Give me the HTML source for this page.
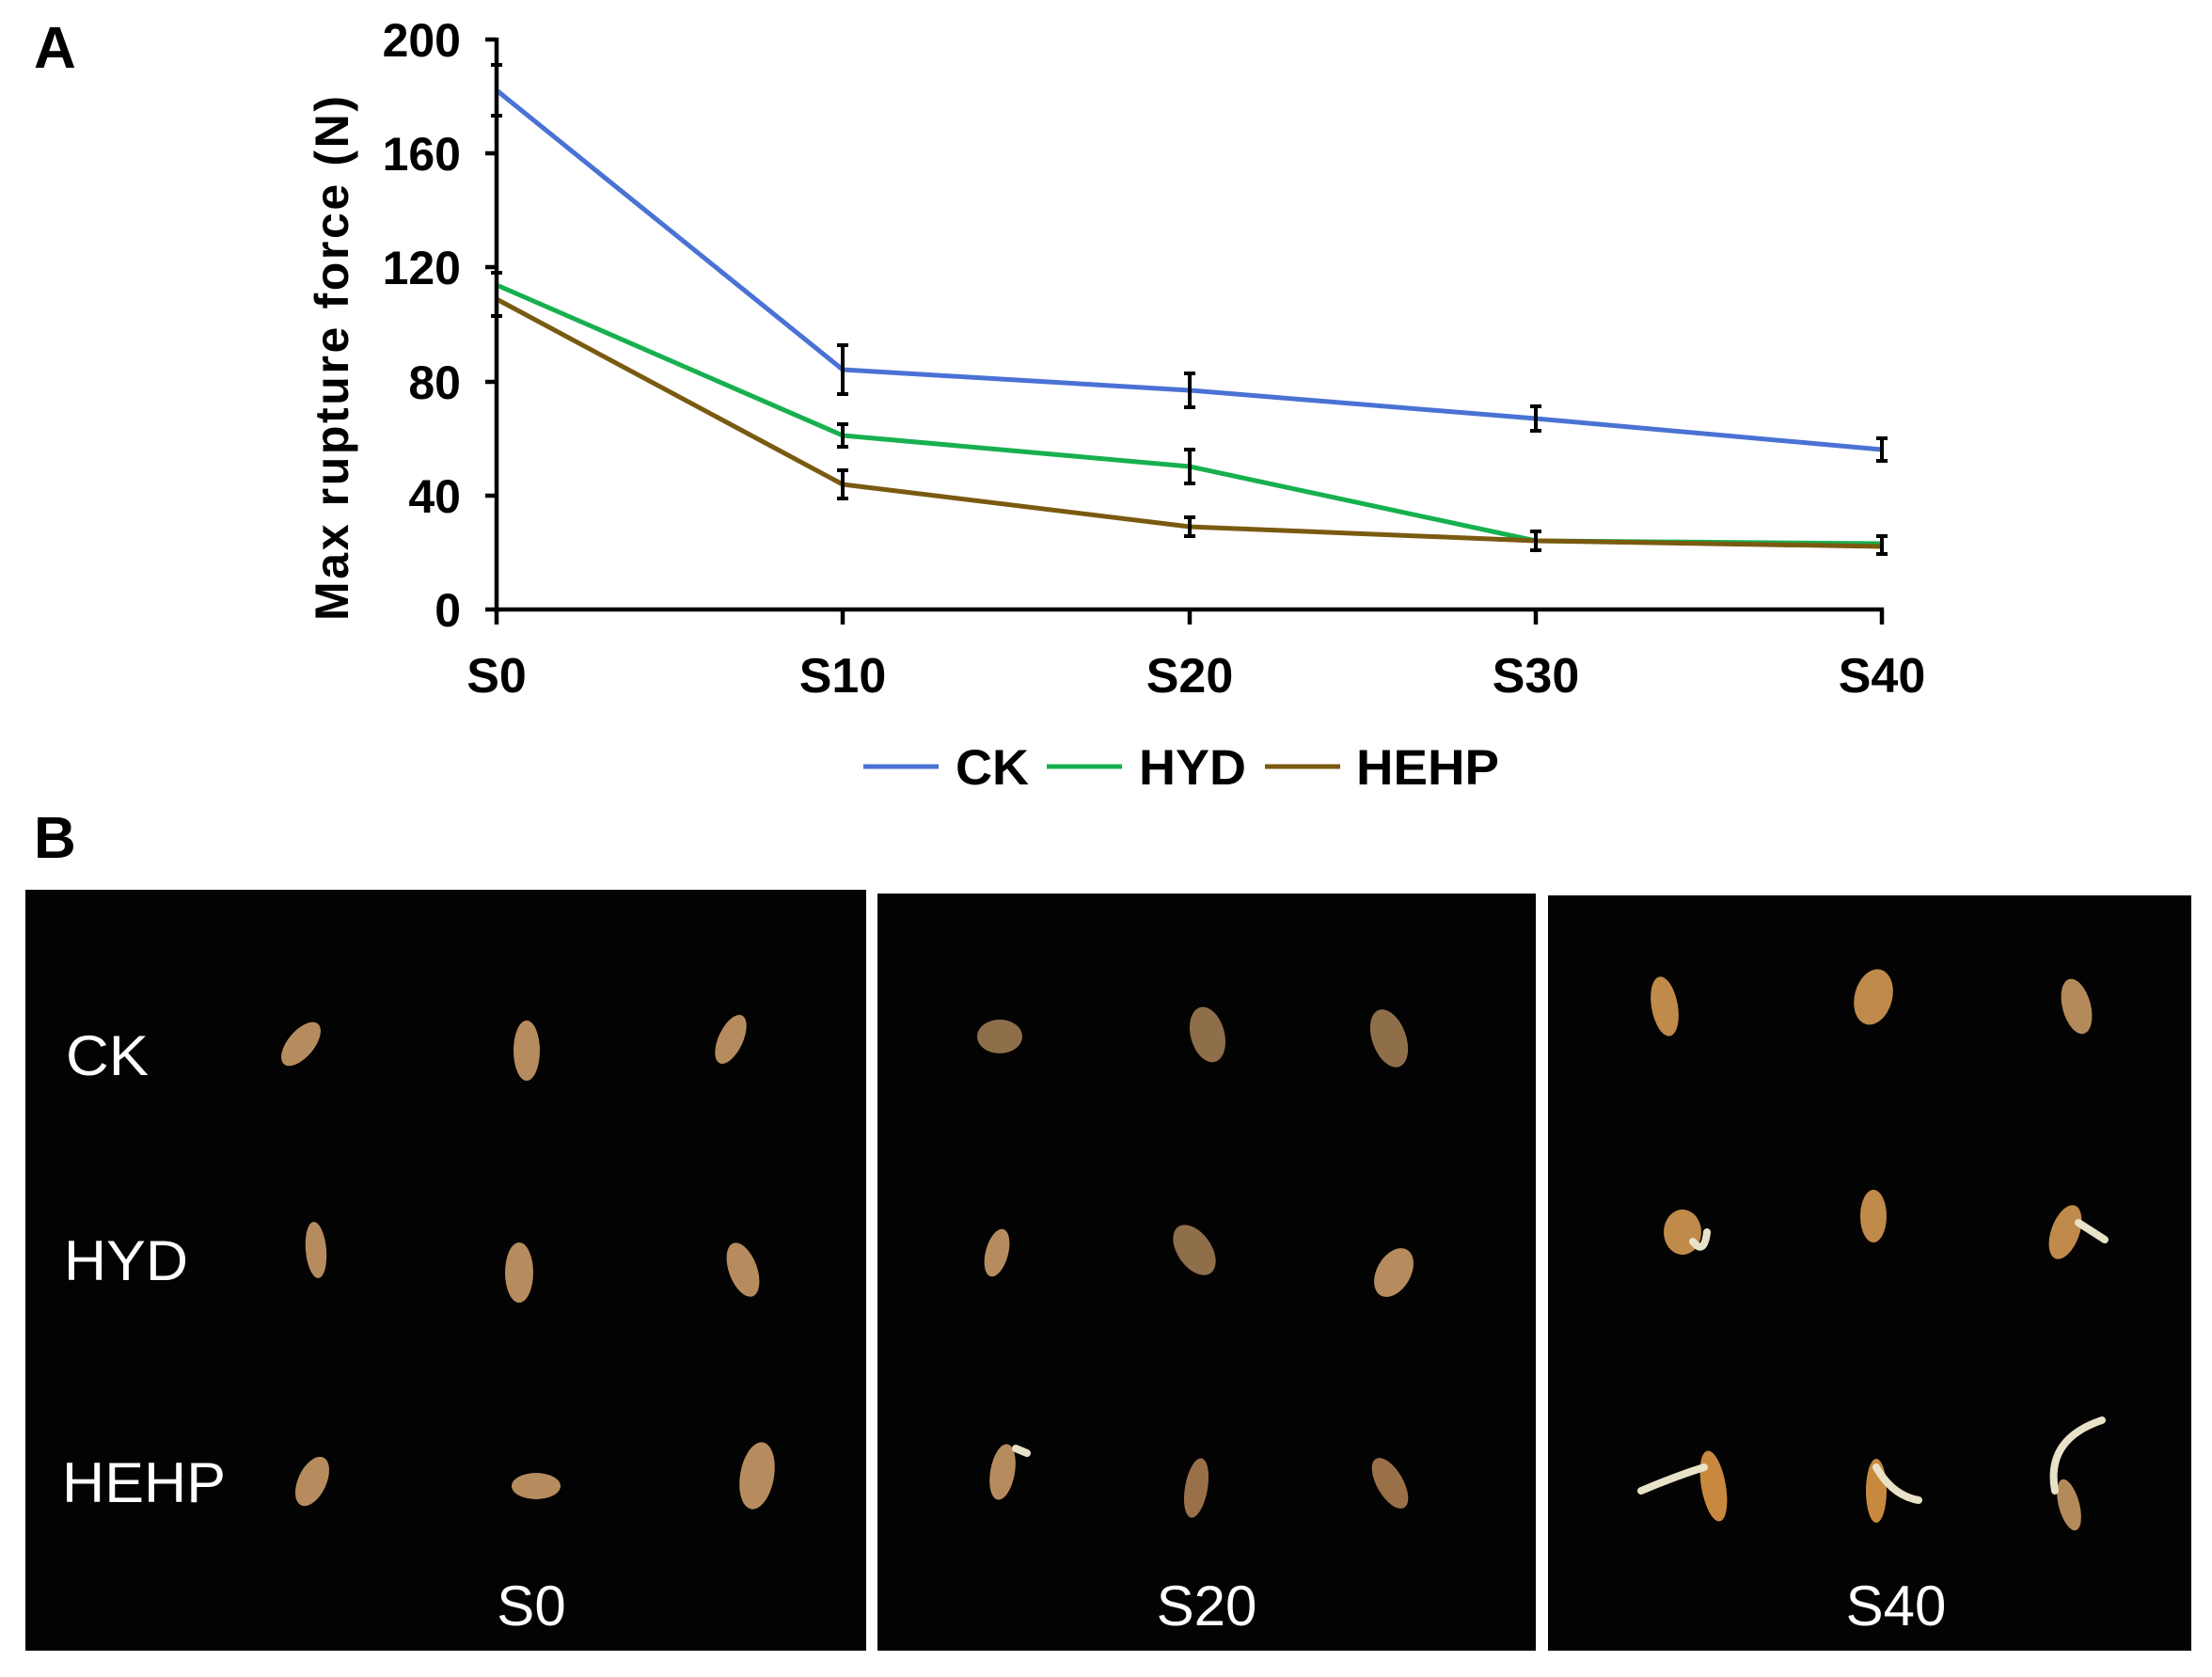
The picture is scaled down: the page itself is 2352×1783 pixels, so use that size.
<!DOCTYPE html>
<html><head><meta charset="utf-8"><style>
html,body{margin:0;padding:0;background:#fff;}
svg{display:block;}
</style></head><body>
<svg width="2352" height="1783" viewBox="0 0 2352 1783" xmlns="http://www.w3.org/2000/svg" font-family="Liberation Sans, Arial, sans-serif">
<rect width="2352" height="1783" fill="#fff"/>
<text x="36" y="72" font-size="62" font-weight="bold">A</text>
<text x="36" y="912" font-size="62" font-weight="bold">B</text>
<g stroke="#000" stroke-width="4.5" fill="none">
<line x1="528" y1="40" x2="528" y2="652"/>
<line x1="526" y1="648" x2="2003" y2="648"/>
<line x1="516" y1="42" x2="528" y2="42"/><line x1="516" y1="163" x2="528" y2="163"/><line x1="516" y1="284" x2="528" y2="284"/><line x1="516" y1="406" x2="528" y2="406"/><line x1="516" y1="527" x2="528" y2="527"/><line x1="516" y1="648" x2="528" y2="648"/>
<line x1="528" y1="648" x2="528" y2="664"/><line x1="896" y1="648" x2="896" y2="664"/><line x1="1265" y1="648" x2="1265" y2="664"/><line x1="1633" y1="648" x2="1633" y2="664"/><line x1="2001" y1="648" x2="2001" y2="664"/>
</g>
<g font-size="50" font-weight="bold" text-anchor="end">
<text x="490" y="60">200</text><text x="490" y="181">160</text><text x="490" y="302">120</text><text x="490" y="424">80</text><text x="490" y="545">40</text><text x="490" y="666">0</text>
</g>
<g font-size="52" font-weight="bold" text-anchor="middle">
<text x="528" y="736">S0</text><text x="896" y="736">S10</text><text x="1265" y="736">S20</text><text x="1633" y="736">S30</text><text x="2001" y="736">S40</text>
</g>
<text transform="translate(370,381) rotate(-90)" font-size="50" font-weight="bold" text-anchor="middle" textLength="558" lengthAdjust="spacing">Max rupture force (N)</text>
<g fill="none" stroke-width="5" stroke-linejoin="round">
<polyline stroke="#4a72d4" points="528,96 896,393 1265,415 1633,445 2001,478"/>
<polyline stroke="#17b04f" points="528,303 896,463 1265,496 1633,575 2001,578"/>
<polyline stroke="#7a5a10" points="528,318 896,515 1265,560 1633,575 2001,581"/>
</g>
<g stroke="#000" stroke-width="4" fill="none">
<path d="M528 69V123M522 69h12M522 123h12"/>
<path d="M528 290V336M522 290h12M522 336h12"/>
<path d="M896 367V419M890 367h12M890 419h12"/>
<path d="M1265 397V433M1259 397h12M1259 433h12"/>
<path d="M1633 432V458M1627 432h12M1627 458h12"/>
<path d="M2001 466V490M1995 466h12M1995 490h12"/>
<path d="M896 451V475M890 451h12M890 475h12"/>
<path d="M1265 478V514M1259 478h12M1259 514h12"/>
<path d="M896 500V530M890 500h12M890 530h12"/>
<path d="M1265 550V570M1259 550h12M1259 570h12"/>
<path d="M1633 565V585M1627 565h12M1627 585h12"/>
<path d="M2001 570V589M1995 570h12M1995 589h12"/>
</g>
<g stroke-width="5">
<line x1="918" y1="815" x2="998" y2="815" stroke="#4a72d4"/>
<line x1="1113" y1="815" x2="1193" y2="815" stroke="#17b04f"/>
<line x1="1345" y1="815" x2="1425" y2="815" stroke="#7a5a10"/>
</g>
<g font-size="53" font-weight="bold">
<text x="1016" y="834" textLength="78" lengthAdjust="spacingAndGlyphs">CK</text><text x="1211" y="834" textLength="114" lengthAdjust="spacingAndGlyphs">HYD</text><text x="1442" y="834" textLength="152" lengthAdjust="spacingAndGlyphs">HEHP</text>
</g>
<rect x="27" y="946" width="894" height="809" fill="#030303"/>
<rect x="933" y="950" width="700" height="805" fill="#030303"/>
<rect x="1646" y="952" width="684" height="803" fill="#030303"/>
<g fill="#fff" font-size="60">
<text x="70" y="1143" textLength="88" lengthAdjust="spacingAndGlyphs">CK</text><text x="68" y="1361" textLength="132" lengthAdjust="spacingAndGlyphs">HYD</text><text x="66" y="1597" textLength="174" lengthAdjust="spacingAndGlyphs">HEHP</text>
<text x="565" y="1728" text-anchor="middle">S0</text><text x="1283" y="1728" text-anchor="middle">S20</text><text x="2016" y="1728" text-anchor="middle">S40</text>
</g>
<g fill="#b68c5e">
<ellipse cx="320" cy="1110" rx="14" ry="28" transform="rotate(40 320 1110)"/>
<ellipse cx="560" cy="1117" rx="14" ry="32"/>
<ellipse cx="777" cy="1105" rx="13" ry="28" transform="rotate(25 777 1105)"/>
<ellipse cx="336" cy="1329" rx="11" ry="30" transform="rotate(-5 336 1329)"/>
<ellipse cx="552" cy="1353" rx="15" ry="32"/>
<ellipse cx="790" cy="1350" rx="15" ry="30" transform="rotate(-20 790 1350)"/>
<ellipse cx="332" cy="1575" rx="15" ry="28" transform="rotate(25 332 1575)"/>
<ellipse cx="570" cy="1580" rx="26" ry="14"/>
<ellipse cx="805" cy="1569" rx="18" ry="36" transform="rotate(10 805 1569)"/>
<ellipse cx="1063" cy="1102" rx="24" ry="18" fill="#8f6e4a"/>
<ellipse cx="1284" cy="1100" rx="18" ry="30" fill="#8f6e4a" transform="rotate(-15 1284 1100)"/>
<ellipse cx="1477" cy="1104" rx="18" ry="32" fill="#8f6e4a" transform="rotate(-20 1477 1104)"/>
<ellipse cx="1060" cy="1332" rx="12" ry="26" transform="rotate(15 1060 1332)"/>
<ellipse cx="1270" cy="1329" rx="18" ry="30" fill="#8f6e4a" transform="rotate(-35 1270 1329)"/>
<ellipse cx="1482" cy="1353" rx="18" ry="28" transform="rotate(30 1482 1353)"/>
<ellipse cx="1066" cy="1565" rx="13" ry="30" transform="rotate(10 1066 1565)"/>
<ellipse cx="1272" cy="1582" rx="12" ry="32" fill="#9a7048" transform="rotate(10 1272 1582)"/>
<ellipse cx="1478" cy="1577" rx="14" ry="30" fill="#9a7048" transform="rotate(-30 1478 1577)"/>
<ellipse cx="1770" cy="1070" rx="14" ry="32" fill="#c08a4a" transform="rotate(-10 1770 1070)"/>
<ellipse cx="1992" cy="1060" rx="20" ry="30" fill="#c08a4a" transform="rotate(15 1992 1060)"/>
<ellipse cx="2208" cy="1070" rx="15" ry="30" fill="#b58a5a" transform="rotate(-15 2208 1070)"/>
<ellipse cx="1789" cy="1310" rx="20" ry="24" fill="#c08a4a"/>
<ellipse cx="1992" cy="1293" rx="14" ry="28" fill="#c08a4a"/>
<ellipse cx="2196" cy="1310" rx="15" ry="30" fill="#c08a4a" transform="rotate(20 2196 1310)"/>
<ellipse cx="1822" cy="1580" rx="13" ry="38" fill="#c8893e" transform="rotate(-10 1822 1580)"/>
<ellipse cx="1995" cy="1585" rx="11" ry="34" fill="#c8893e"/>
<ellipse cx="2200" cy="1600" rx="11" ry="28" fill="#b58a5a" transform="rotate(-15 2200 1600)"/>
</g>
<g stroke="#e8e2c8" stroke-width="8" fill="none" stroke-linecap="round">
<path d="M1812 1560 Q1780 1570 1745 1585"/>
<path d="M1995 1560 Q2012 1590 2040 1595"/>
<path d="M2185 1585 Q2175 1530 2235 1510"/>
<path d="M1800 1320 Q1812 1335 1815 1310"/>
<path d="M2210 1300 L2238 1318"/>
<path d="M1080 1540 L1092 1545"/>
</g>
</svg>
</body></html>
